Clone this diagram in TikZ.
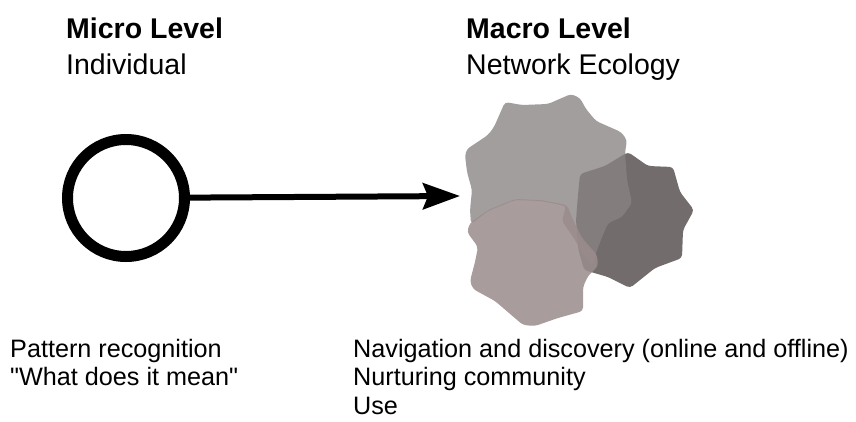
\documentclass[tikz,border=0pt]{standalone}
\usepackage{fontspec}
\setmainfont{Liberation Sans}[Ligatures=TeXOff]
\usetikzlibrary{arrows.meta}
\definecolor{blobdark}{RGB}{115,108,108}
\definecolor{blobtop}{RGB}{137,131,131}
\definecolor{blobbottom}{RGB}{155,141,141}
\tikzstyle{heading} = [anchor=base west, inner sep=0pt, font=\fontsize{28.5}{34}\selectfont]
\tikzstyle{caption} = [anchor=base west, inner sep=0pt, font=\fontsize{25.2}{29}\selectfont]
\tikzstyle{agent} = [circle, draw, line width=11pt, minimum size=117pt, inner sep=0pt]
\tikzstyle{blob} = [rounded corners=3.5pt]
\tikzstyle{line} = [draw, line width=6pt, -{Stealth[length=37pt, width=26pt, inset=5pt]}]

\begin{document}
\begin{tikzpicture}[x=1pt, y=-1pt]
  \useasboundingbox (0,0) rectangle (856,421);
  \node [heading] (micro) at (66,38) {\textbf{Micro Level}};
  \node [heading] (individual) at (66,74) {Individual};
  \node [heading] (macro) at (466,38) {\textbf{Macro Level}};
  \node [heading] (ecology) at (466,74) {Network Ecology};
  \node [agent] (indiv) at (126,198) {};
  \coordinate (tip) at (460,196);
  % network ecology blobs
  \fill [blob, blobdark] (628,152) -- (648,166) -- (673,167) -- (680,192) -- (694,210)
    -- (683,230) -- (682,258) -- (655,268) -- (630,288) -- (608,277) -- (584,270)
    -- (578,248) -- (576,220) -- (578,195) -- (580,174) -- (605,166) -- cycle;
  \fill [blob, blobtop, fill opacity=0.78] (505,102) -- (522,105) -- (548,104) -- (571,94)
    -- (580,98) -- (586,109) -- (596,121) -- (621,132) -- (627,140) -- (625,153)
    -- (627,180) -- (632,203) -- (622,217) -- (608,223) -- (602,237) -- (596,253)
    -- (592,266) -- (584,256) -- (575,240) -- (562,221) -- (566,206) -- (541,201)
    -- (515,200) -- (488,211) -- (471,224) -- (470,210) -- (472,190) -- (467,172)
    -- (465,155) -- (467,149) -- (488,135) -- (494,127) -- cycle;
  \fill [blob, blobbottom, fill opacity=0.87] (470,223) -- (488,210) -- (515,199) -- (541,200)
    -- (567,205) -- (574,222) -- (582,238) -- (597,255) -- (598,266) -- (588,276) -- (583,287)
    -- (583,311) -- (558,318) -- (535,326) -- (523,325) -- (495,301) -- (473,289)
    -- (470,281) -- (475,262) -- (478,247) -- (467,232) -- cycle;
  \path [line] (indiv) -- (tip);
  \node [caption] (pattern) at (10,357) {Pattern recognition};
  \node [caption] (meaning) at (10,385.5) {"What does it mean"};
  \node [caption] (navigation) at (353,357) {Navigation and discovery (online and offline)};
  \node [caption] (nurturing) at (353,385.5) {Nurturing community};
  \node [caption] (use) at (353,414) {Use};
\end{tikzpicture}
\end{document}
